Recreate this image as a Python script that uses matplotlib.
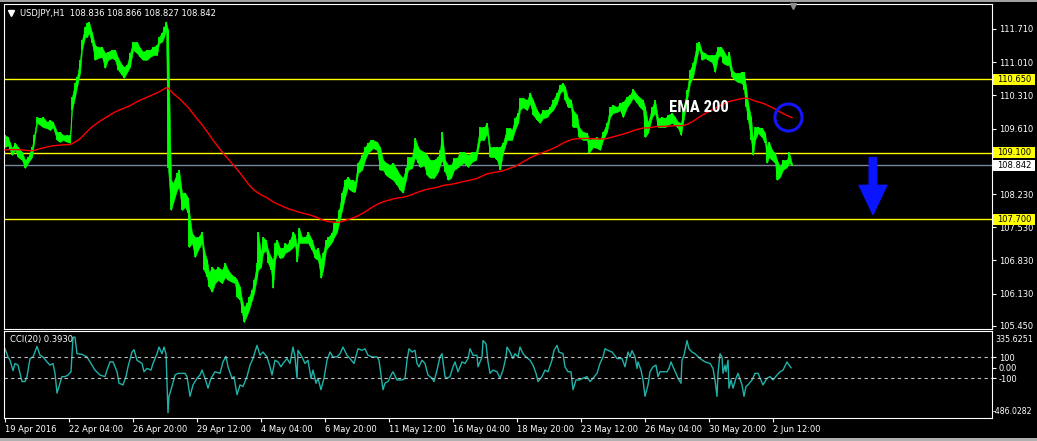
import matplotlib.pyplot as plt
import numpy as np
from matplotlib.patches import Rectangle
import matplotlib.transforms as mtransforms

# ---- data (x = H1 bar number from the first visible bar) ----
bars = [0, 3, 5, 7, 10, 13, 17, 20, 23, 27, 29, 32, 35, 38, 42, 45, 48, 52, 55, 58,
        62, 65, 67, 70, 72, 75, 77, 80, 82, 84, 87, 90, 93, 97, 100, 103, 107, 110, 113, 117,
        119, 122, 125, 128, 132, 135, 138, 142, 145, 148, 152, 154, 157, 159, 161, 163, 166, 168, 172, 174,
        177, 180, 183, 184, 187, 190, 193, 197, 199, 202, 204, 207, 210, 213, 217, 220, 223, 227, 230, 232,
        235, 237, 239, 242, 244, 247, 249, 252, 253, 256, 258, 261, 263, 266, 268, 270, 272, 275, 278, 280,
        282, 285, 288, 290, 292, 294, 297, 300, 303, 307, 310, 313, 316, 318, 321, 323, 327, 329, 332, 334,
        337, 340, 343, 345, 348, 350, 353, 357, 360, 363, 366, 368, 372, 375, 378, 381, 385, 388, 392, 395,
        398, 401, 403, 407, 410, 413, 415, 419, 422, 425, 429, 433, 435, 437, 440, 443, 446, 449, 452, 455,
        459, 463, 467, 471, 475, 479, 482, 485, 489, 492, 495, 498, 502, 505, 507, 510, 513, 515, 518, 522,
        525, 528, 532, 535, 538, 542, 545, 548, 552, 555, 558, 560, 563, 566, 568, 572, 574, 578, 582, 584,
        588, 592, 595, 598, 602, 605, 608, 612, 615, 618, 622, 625, 628, 632, 635, 638, 640, 643, 647, 650,
        653, 657, 660, 663, 667, 670, 673, 676, 678, 682, 685, 688, 692, 694, 697, 700, 703, 707, 710, 713,
        716, 718, 722, 724, 727, 730, 733, 737, 739, 741, 743, 746, 748, 750, 753, 757, 760, 762, 764, 767,
        770, 772, 775, 778, 782, 784, 787]
high = [109.47, 109.43, 109.31, 109.20, 109.31, 109.22, 109.12, 108.95, 109.01, 109.22, 109.47, 109.85, 109.83, 109.85, 109.75, 109.79, 109.75, 109.54, 109.54, 109.47,
        109.47, 109.47, 110.28, 110.57, 110.70, 111.06, 111.48, 111.75, 111.84, 111.86, 111.63, 111.37, 111.33, 111.33, 111.20, 111.23, 111.27, 111.27, 111.10, 110.95,
        110.91, 110.95, 111.20, 111.44, 111.44, 111.31, 111.23, 111.27, 111.27, 111.33, 111.37, 111.54, 111.63, 111.75, 111.86, 111.69, 108.53, 108.46, 108.67, 108.74,
        108.26, 108.26, 108.15, 107.89, 107.41, 107.32, 107.32, 107.43, 107.05, 106.84, 106.57, 106.69, 106.63, 106.69, 106.63, 106.78, 106.63, 106.52, 106.48, 106.42,
        106.27, 106.00, 105.85, 105.93, 106.06, 106.21, 106.42, 106.78, 107.43, 106.99, 107.32, 107.26, 107.05, 106.90, 106.84, 107.20, 107.26, 107.09, 107.09, 107.20,
        107.16, 107.26, 107.43, 107.37, 107.11, 107.52, 107.32, 107.32, 107.43, 107.26, 107.05, 107.09, 106.84, 106.99, 107.26, 107.32, 107.41, 107.62, 107.68, 107.89,
        108.26, 108.53, 108.59, 108.53, 108.53, 108.48, 108.89, 109.05, 109.22, 109.31, 109.37, 109.37, 109.33, 109.22, 108.95, 108.89, 108.84, 108.89, 108.74, 108.63,
        108.57, 108.78, 109.01, 109.01, 109.41, 109.22, 109.16, 109.12, 109.05, 108.95, 108.95, 109.01, 109.16, 109.54, 108.95, 108.84, 108.84, 108.99, 108.99, 109.12,
        109.12, 109.05, 109.12, 109.12, 109.64, 109.64, 109.73, 109.22, 109.22, 109.22, 109.22, 109.31, 109.62, 109.62, 109.58, 109.83, 109.94, 110.26, 110.26, 110.21,
        110.36, 110.21, 110.00, 109.90, 110.00, 110.00, 110.06, 110.21, 110.36, 110.53, 110.57, 110.49, 110.26, 110.21, 110.00, 109.90, 109.64, 109.54, 109.52, 109.37,
        109.41, 109.43, 109.37, 109.54, 109.73, 110.06, 110.11, 110.06, 110.15, 110.17, 110.28, 110.32, 110.44, 110.32, 110.26, 110.21, 110.06, 109.73, 110.06, 110.21,
        109.83, 109.85, 109.83, 109.90, 109.94, 109.85, 109.75, 109.73, 110.00, 110.42, 110.85, 110.99, 111.41, 111.44, 111.23, 111.20, 111.16, 111.16, 111.16, 111.33,
        111.33, 111.27, 111.12, 111.23, 110.85, 110.78, 110.78, 110.80, 110.80, 110.49, 110.15, 109.85, 109.37, 109.64, 109.64, 109.62, 109.52, 109.22, 109.33, 109.16,
        109.10, 108.95, 108.80, 108.95, 108.95, 109.12, 108.87]
low = [109.22, 109.26, 109.16, 109.05, 109.16, 109.01, 108.95, 108.78, 108.89, 109.01, 109.31, 109.73, 109.69, 109.64, 109.62, 109.58, 109.64, 109.37, 109.33, 109.37,
       109.33, 109.31, 110.00, 110.28, 110.49, 110.78, 111.27, 111.54, 111.54, 111.63, 111.41, 111.06, 111.10, 111.12, 110.89, 111.06, 111.10, 111.06, 110.85, 110.74,
       110.68, 110.80, 110.91, 111.27, 111.20, 111.12, 111.06, 111.06, 111.12, 111.16, 111.16, 111.41, 111.44, 111.54, 111.69, 108.78, 107.89, 108.04, 108.32, 108.38,
       107.89, 107.96, 107.83, 107.11, 107.20, 106.90, 107.05, 107.20, 106.63, 106.48, 106.27, 106.17, 106.35, 106.42, 106.35, 106.48, 106.42, 106.38, 106.35, 106.06,
       106.00, 105.72, 105.53, 105.68, 105.79, 106.00, 106.14, 106.48, 106.63, 106.69, 106.99, 107.05, 106.78, 106.63, 106.25, 106.84, 106.99, 106.88, 106.90, 106.99,
       107.01, 107.05, 107.11, 107.16, 106.80, 107.20, 107.20, 107.20, 107.20, 107.05, 106.88, 106.84, 106.46, 106.63, 107.05, 107.11, 107.22, 107.32, 107.43, 107.62,
       107.89, 108.17, 108.38, 108.32, 108.28, 108.28, 108.67, 108.74, 108.95, 109.10, 109.16, 109.20, 109.16, 108.74, 108.74, 108.63, 108.57, 108.53, 108.42, 108.32,
       108.26, 108.53, 108.74, 108.78, 109.01, 108.89, 108.80, 108.84, 108.63, 108.57, 108.57, 108.70, 108.84, 108.95, 108.70, 108.53, 108.57, 108.74, 108.78, 108.84,
       108.89, 108.80, 108.91, 108.95, 109.37, 109.37, 109.52, 109.01, 109.01, 108.95, 108.74, 109.10, 109.37, 109.37, 109.37, 109.58, 109.73, 110.00, 110.06, 110.00,
       110.15, 109.90, 109.79, 109.73, 109.83, 109.85, 109.94, 110.00, 110.15, 110.36, 110.42, 110.21, 110.06, 110.06, 109.64, 109.64, 109.43, 109.37, 109.37, 109.10,
       109.22, 109.20, 109.16, 109.37, 109.54, 109.85, 109.94, 109.96, 110.00, 109.85, 110.06, 110.15, 110.26, 110.15, 110.06, 110.00, 109.43, 109.52, 109.85, 109.94,
       109.64, 109.64, 109.64, 109.69, 109.73, 109.69, 109.62, 109.47, 109.73, 110.21, 110.57, 110.70, 111.12, 111.31, 111.06, 111.10, 111.06, 111.01, 110.80, 111.12,
       111.16, 110.99, 110.95, 110.95, 110.70, 110.63, 110.59, 110.57, 110.42, 110.06, 109.79, 109.37, 109.05, 109.37, 109.52, 109.43, 109.31, 108.89, 109.01, 108.95,
       108.89, 108.53, 108.59, 108.74, 108.80, 108.89, 108.84]
last_price = 108.842
ema_start = 109.16
ohlc_text = "USDJPY,H1  108.836 108.866 108.827 108.842"

cci_bars = [0, 3, 5, 8, 10, 13, 17, 20, 22, 25, 28, 32, 35, 38, 42, 45, 48, 50, 52, 54,
            57, 60, 63, 66, 68, 70, 72, 77, 82, 85, 90, 95, 100, 102, 105, 108, 112, 114, 118, 121,
            123, 127, 129, 132, 137, 139, 142, 146, 148, 152, 154, 157, 159, 161, 162, 163, 164, 167, 170, 173,
            180, 182, 185, 188, 192, 195, 197, 200, 203, 206, 210, 215, 218, 221, 223, 227, 229, 232, 235, 238,
            242, 245, 248, 252, 255, 258, 262, 265, 267, 270, 273, 276, 278, 282, 285, 288, 290, 292, 293, 297,
            300, 303, 306, 308, 311, 313, 316, 319, 322, 325, 328, 332, 335, 338, 342, 345, 349, 353, 357, 360,
            363, 367, 372, 374, 376, 378, 380, 383, 387, 388, 392, 397, 400, 402, 404, 407, 410, 412, 414, 417,
            420, 423, 427, 429, 432, 435, 437, 440, 442, 445, 448, 450, 453, 457, 460, 463, 465, 468, 472, 473,
            477, 478, 481, 483, 485, 488, 492, 495, 498, 501, 502, 505, 508, 510, 513, 515, 518, 521, 525, 528,
            531, 533, 537, 540, 543, 547, 549, 552, 554, 558, 560, 563, 566, 568, 571, 574, 578, 582, 585, 588,
            592, 595, 598, 600, 603, 607, 612, 617, 620, 623, 625, 627, 630, 632, 633, 636, 638, 640, 643, 645,
            648, 651, 653, 655, 658, 662, 664, 666, 668, 671, 673, 676, 677, 679, 682, 684, 687, 690, 695, 700,
            705, 708, 710, 712, 713, 715, 717, 718, 720, 721, 723, 724, 726, 728, 731, 733, 737, 739, 741, 743,
            747, 750, 753, 758, 762, 765, 768, 772, 775, 778, 782, 784, 786]
cci = [181, 103, 72, -28, 41, 25, -131, -131, -84, 88, 103, 203, 119, 103, 56, 25, 41, -53, -241, -178,
       -84, -84, -69, -38, 291, 291, 134, 128, 103, 56, -22, -69, -84, -22, 56, 56, -38, -147, -163, -84,
       9, 150, 172, 72, 41, -38, -6, -22, 41, 134, 197, 134, 197, 134, -147, -428, -272, -178, -69, -53,
       -53, -84, -272, -163, -100, -69, -22, -100, -194, -100, -38, -53, 56, 109, 9, -100, -84, -256, -163, -178,
       -84, 25, 88, 213, 119, 150, 103, 9, -69, 72, 56, 9, 41, 88, 41, 197, 103, -100, 166, 103,
       41, 72, -100, -22, -147, -100, -209, -100, 72, 150, 103, 103, 134, 197, 119, 88, 41, 181, 166, 181,
       119, 103, 103, 72, -69, -209, -147, -131, -53, -38, -116, -116, -100, 72, 181, 150, 166, 41, 9, 72,
       41, -69, -100, -131, -22, 103, 134, -84, -100, -84, 9, 56, -38, 56, 41, 88, 181, 119, 119, 9,
       103, 259, 228, 56, -53, -22, -38, -100, -22, 103, 197, 150, 88, 134, 103, 197, 134, 103, 72, 25,
       -53, -131, -84, -22, -38, 72, 166, 213, 150, 134, 9, -38, -38, -209, -116, -116, -100, -84, -131, -100,
       -53, 41, 103, 181, 166, 150, 88, 88, 9, 150, 103, 163, 103, -6, 56, -22, -116, -272, -163, -38,
       9, 25, -84, -38, -38, -38, -6, 56, 9, -53, -100, -147, 72, 119, 259, 181, 150, 134, 88, 56,
       41, -6, -116, -272, -53, 134, 103, -53, 25, -38, 72, -194, -116, -194, -100, -53, -163, -272, -178, -163,
       -116, -53, -53, -163, -100, -84, -116, -69, -38, -22, 56, 25, 0.393]

date_ticks = [0, 64, 128, 192, 256, 320, 384, 448, 512, 576, 640, 704, 768]
date_labels = ["19 Apr 2016", "22 Apr 04:00", "26 Apr 20:00", "29 Apr 12:00", "4 May 04:00",
               "6 May 20:00", "11 May 12:00", "16 May 04:00", "18 May 20:00", "23 May 12:00",
               "26 May 04:00", "30 May 20:00", "2 Jun 12:00"]
price_ticks = [111.71, 111.01, 110.31, 109.61, 108.23, 107.53, 106.83, 106.13, 105.45]
levels = [110.65, 109.10, 107.70]

# ---- EMA 200 on the closes ----
high = np.array(high)
low = np.array(low)
close = (high + low) / 2
close[-1] = last_price
alpha = 2 / 201
ema = np.empty_like(close)
ema[0] = ema_start
for i in range(1, len(close)):
    k = 1 - (1 - alpha) ** (bars[i] - bars[i - 1])
    ema[i] = ema[i - 1] + k * (close[i] - ema[i - 1])

plt.rcParams['font.family'] = 'DejaVu Sans'
W, H = 1037, 441
fig = plt.figure(figsize=(W / 100, H / 100), dpi=100, facecolor='black')
ax = fig.add_axes([4 / W, 1 - 329 / H, 988 / W, 325 / H], facecolor='black')
ax2 = fig.add_axes([4 / W, 1 - 418 / H, 988 / W, 87 / H], facecolor='black', sharex=ax)

# ---- price panel ----
for lv in levels:
    ax.axhline(lv, color='#ffff00', lw=1, zorder=1)
ax.axhline(last_price, color='#778899', lw=1, zorder=1)
ax.fill_between(bars, low, high, color='#00ff00', lw=0.4, edgecolor='#00ff00', zorder=2)
ax.vlines(bars, low, high, color='#00ff00', lw=1.3, zorder=2)
ax.plot(bars, ema, color='#ff0000', lw=1, zorder=3)

ax.set_xlim(-1, 987)
ax.set_ylim(105.386, 112.237)
ax.yaxis.tick_right()
ax.set_yticks(price_ticks, [f"{t:.3f}" for t in price_ticks])
ax.tick_params(axis='y', colors='white', labelsize=6, length=3, pad=2)
ax.tick_params(axis='x', bottom=False, labelbottom=False)
for s in ax.spines.values():
    s.set_color('white')

# boxed price labels on the right scale
bt = mtransforms.blended_transform_factory(ax.transAxes, ax.transData)
box_h = 11 / 47.44
for lv, fc in [(110.65, '#ffff00'), (109.10, '#ffff00'), (107.70, '#ffff00'), (last_price, 'white')]:
    ax.add_patch(Rectangle((1.001, lv - box_h / 2), 0.0425, box_h, transform=bt,
                           facecolor=fc, edgecolor='none', clip_on=False, zorder=5))
    ax.text(1.005, lv, f"{lv:.3f}", transform=bt, color='black', fontsize=6,
            va='center', ha='left', clip_on=False, zorder=6)

# annotations
ax.text(664, 110.045, "EMA 200", color='white', fontsize=12, fontweight='bold',
        family=['Roboto Condensed', 'Liberation Sans Narrow', 'Liberation Sans'],
        va='center', ha='left', zorder=6)
ax.plot([783], [109.855], marker='o', markersize=19.5, mfc='none', mec='#1515ff', mew=2.2, zorder=6)
ax.annotate('', xy=(868, 107.80), xytext=(868, 109.00),
            arrowprops=dict(facecolor='#0a14ff', edgecolor='#0a14ff', width=5.5,
                            headwidth=20, headlength=21, shrink=0), zorder=6)

# ---- CCI panel ----
ax2.plot(cci_bars, cci, color='#20b2aa', lw=1)
for lv in (100, -100):
    ax2.axhline(lv, color='#c0c0c0', lw=0.8, dashes=(3, 3))
ax2.set_ylim(-478, 350)
ax2.yaxis.tick_right()
ax2.set_yticks([100, 0, -100], ['100', '0.00', '-100'])
ax2.tick_params(axis='y', colors='white', labelsize=6, length=3, pad=2)
ax2.set_xticks(date_ticks, date_labels)
ax2.tick_params(axis='x', colors='white', labelsize=6, length=3, pad=2)
for lab in ax2.get_xticklabels():
    lab.set_ha('left')
for s in ax2.spines.values():
    s.set_color('white')
ax2.text(1.003, 0.897, "335.6251", transform=ax2.transAxes, color='white', fontsize=5.8,
         va='center', ha='left', clip_on=False)
ax2.text(1.001, 0.069, "-486.0282", transform=ax2.transAxes, color='white', fontsize=5.6,
         va='center', ha='left', clip_on=False)
ax2.text(5, 0.9, "CCI(20) 0.3930", transform=mtransforms.blended_transform_factory(ax2.transData, ax2.transAxes),
         color='white', fontsize=6, va='center', ha='left')

# ---- header and window frame ----
fig.text(20 / W, 1 - 13 / H, ohlc_text, color='white', fontsize=6, va='center', ha='left')
fig.lines.append(plt.Line2D([11 / W], [1 - 13 / H], marker='v', color='white', markersize=4,
                            transform=fig.transFigure))
fig.lines.append(plt.Line2D([793 / W], [1 - 6 / H], marker='v', color='#8c8c8c', markersize=5,
                            transform=fig.transFigure))
fig.patches.append(Rectangle((0, 1 - 2 / H), 1, 2 / H, transform=fig.transFigure,
                             facecolor='#a0a0a0', edgecolor='none'))
fig.patches.append(Rectangle((0, 0), 1, 3 / H, transform=fig.transFigure,
                             facecolor='#b0b0b0', edgecolor='none'))

fig.savefig('out.png', dpi=100, facecolor='black')
